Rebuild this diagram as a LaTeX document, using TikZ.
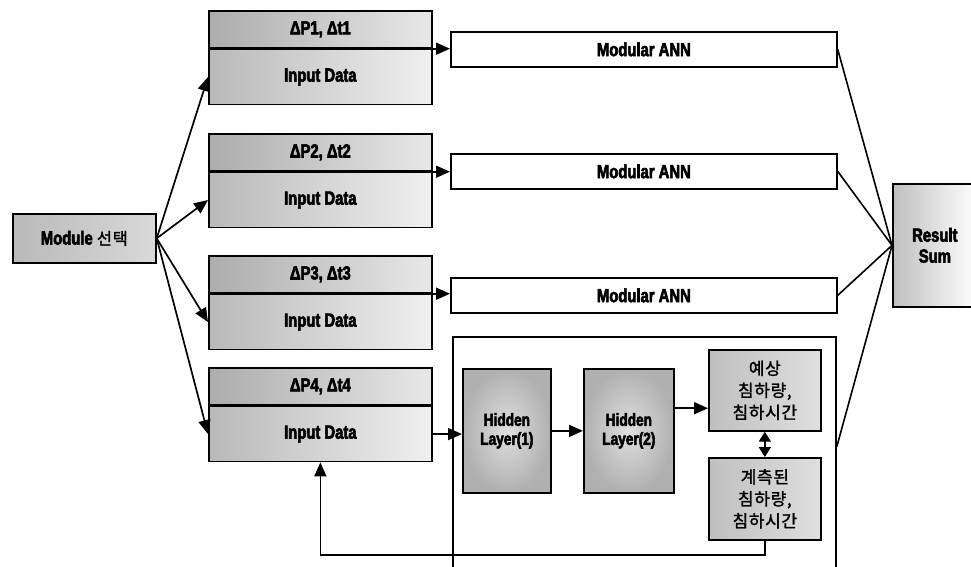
\documentclass[tikz,border=0pt]{standalone}
\usepackage{fontspec}
\usepackage{graphicx}
\setmainfont{Liberation Sans}
\newfontfamily\heavy{Liberation Sans Bold}[FakeStretch=0.78,FakeBold=3]
\newfontfamily\kr{Noto Sans CJK KR}[LetterSpace=4,FakeBold=1.5]
\usetikzlibrary{arrows.meta,shadings,calc}
\begin{document}
\begin{tikzpicture}[x=1pt,y=-1pt,
  box/.style={draw, line width=1.7pt, inner sep=0pt, anchor=north west,
    font=\heavy\fontsize{19}{21}\selectfont, align=center},
  krbox/.style={box, font=\kr\fontsize{17}{22}\selectfont},
  arr/.style={line width=1.7pt, -{Triangle[length=14pt,width=12pt]}},
  dbl/.style={line width=1.7pt, {Triangle[length=10pt,width=12pt]}-{Triangle[length=10pt,width=12pt]}},
  ln/.style={line width=1.6pt}]
\useasboundingbox (0,0) rectangle (971,567);

% Module selection
\node[box, minimum width=143, minimum height=49, left color=gray!55, right color=gray!30] (mod) at (12,213)
  {Module {\kr\fontsize{16.5}{18}\selectfont 선택}};

% input boxes
\foreach \i/\y in {1/10,2/133,3/255,4/367}{
  \node[box, minimum width=223, minimum height=37, left color=gray!65, right color=gray!18] (p\i) at (208,\y) {ΔP\i, Δt\i};
  \node[box, minimum width=223, minimum height=55, left color=gray!55, right color=gray!12] (d\i) at (p\i.south west) {Input Data};
}

% modular ANN boxes
\foreach \i/\y in {1/31,2/153,3/277}{
  \node[box, minimum width=386, minimum height=35, fill=white] (m\i) at (450,\y) {Modular ANN};
}

% result
\node[box, minimum width=84, minimum height=123, left color=gray!50, right color=white] (res) at (892,183) {Result\\Sum};

% container
\node[draw, line width=1.7pt, inner sep=0pt, minimum width=383, minimum height=300, anchor=north west] (cont) at (452,336) {};

% inner network
\node[box, minimum width=88, minimum height=124, inner color=gray!25, outer color=gray!62,
  font=\heavy\fontsize{17.5}{19}\selectfont] (h1) at (462,368) {Hidden\\Layer(1)};
\node[box, minimum width=90, minimum height=124, inner color=gray!25, outer color=gray!62,
  font=\heavy\fontsize{17.5}{19}\selectfont] (h2) at (583,368) {Hidden\\Layer(2)};
\node[krbox, minimum width=112, minimum height=81, left color=gray!50, right color=gray!25] (e1) at (708,349) {예상\\침하량,\\침하시간};
\node[krbox, minimum width=112, minimum height=82, left color=gray!50, right color=gray!25] (e2) at (708,457) {계측된\\침하량,\\침하시간};

% connectors
\foreach \i in {1,...,4}{\draw[arr] (mod.east) -- (d\i.west);}
\foreach \i in {1,2,3}{
  \draw[arr] (d\i.north east) -- (m\i.west |- d\i.north east);
  \draw[ln] (m\i.east) -- (res.west);
}
\coordinate (co) at ([yshift=-111pt]cont.north east);
\draw[ln] (co) -- (res.west);
\draw[arr] (d4.east) -- (h1.west |- d4.east);
\draw[arr] (h1.east) -- (h2.west);
\coordinate (h2o) at ($(h2.north east)!0.32!(h2.south east)$);
\draw[arr] (h2o) -- (e1.west |- h2o);
\draw[dbl] (e1.south) -- (e2.north);
\draw[arr] (e2.south) -- ++(0,14) -| (d4.south);
\end{tikzpicture}
\end{document}
